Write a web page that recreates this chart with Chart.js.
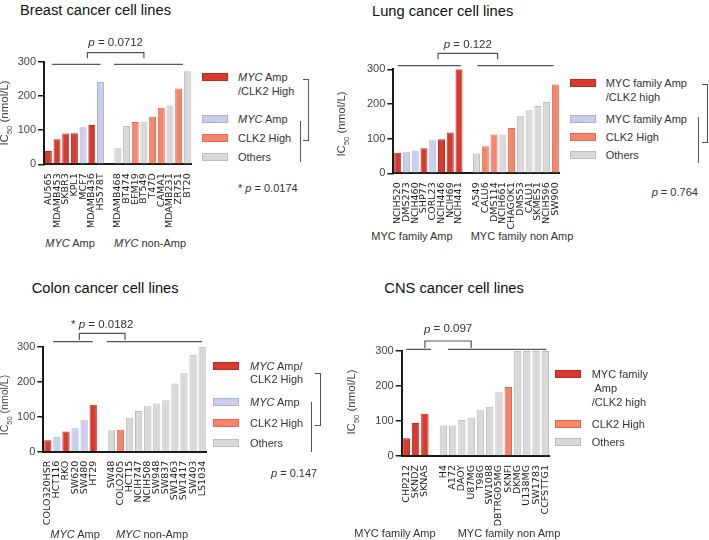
<!DOCTYPE html>
<html>
<head>
<meta charset="utf-8">
<script src="https://cdn.jsdelivr.net/npm/chart.js@4"></script>
<style>
  body { margin: 0; width: 709px; height: 540px; position: relative; overflow: hidden; background: #fff;
         font-family: "Liberation Sans", Arial, sans-serif; color: #333; }
  canvas { position: absolute; }
  .t { position: absolute; white-space: nowrap; transform: translateY(-50%); font-size: 11px; line-height: 1; }
  .title { font-size: 14.7px; color: #111; }
  .ytitle { position: absolute; white-space: nowrap; font-size: 11.5px; transform: translate(-50%, -50%) rotate(-90deg); color: #444; }
  .ytitle sub { font-size: 7.5px; }
  .grp { position: absolute; white-space: nowrap; font-size: 11px; transform: translate(-50%, -50%); color: #333; }
  .sw { position: absolute; width: 24px; height: 6px; border: 1px solid; transform: translateY(-50%); }
  .ln { position: absolute; border-color: #555; border-style: solid; border-width: 0; }
</style>
</head>
<body>
<script>
// IC50 (nmol/L) per cell line; '' / null is the gap between groups
const breastLines = ['AU565', 'MDAMB453', 'SKBR3', 'KPL1', 'MCF7', 'MDAMB436', 'HS578T', '',
  'MDAMB468', 'BT474', 'EFM19', 'BT549', 'T47D', 'CAMA1', 'MDAMB231', 'ZR751', 'BT20'];
const breastIC50 = [39, 73, 90, 91, 108, 115, 241, null, 47, 112, 124, 125, 139, 165, 172, 222, 272];
const breastType = ['both', 'both', 'both', 'both', 'amp', 'both', 'amp', null,
  'other', 'other', 'clk2', 'other', 'clk2', 'clk2', 'other', 'clk2', 'other'];

const lungLines = ['NCIH520', 'DMS273', 'NCIH460', 'SHP77', 'CORL23', 'NCIH446', 'NCIH69', 'NCIH441', '',
  'A549', 'CALU6', 'DMS114', 'NCIH661', 'CHAGOK1', 'DMS53', 'CALU1', 'SKMES1', 'NCIH596', 'SW900'];
const lungIC50 = [59, 61, 66, 72, 95, 98, 118, 300, null, 57, 78, 112, 112, 131, 166, 182, 194, 206, 256];
const lungType = ['both', 'amp', 'amp', 'both', 'amp', 'both', 'both', 'both', null,
  'other', 'clk2', 'clk2', 'other', 'clk2', 'other', 'other', 'other', 'other', 'clk2'];

const colonLines = ['COLO320HSR', 'HCT116', 'RKO', 'SW620', 'SW480', 'HT29', '',
  'SW48', 'COLO205', 'HCT15', 'NCIH747', 'NCIH508', 'SW948', 'SW837', 'SW1463', 'SW1417', 'SW403', 'LS1034'];
const colonIC50 = [33, 43, 58, 67, 90, 134, null, 61, 63, 97, 116, 130, 138, 147, 195, 224, 277, 300];
const colonType = ['both', 'amp', 'both', 'amp', 'amp', 'both', null,
  'other', 'clk2', 'other', 'other', 'other', 'other', 'other', 'other', 'other', 'other', 'other'];

const cnsLines = ['CHP212', 'SKNDZ', 'SKNAS', '',
  'H4', 'A172', 'DAOY', 'U87MG', 'T98G', 'SW1088', 'DBTRG05MG', 'SKNFI', 'DKMG', 'U138MG', 'SW1783', 'CCFSTTG1'];
const cnsIC50 = [51, 94, 121, null, 87, 87, 103, 110, 131, 141, 182, 197, 300, 300, 300, 300];
const cnsType = ['both', 'both', 'both', null,
  'other', 'other', 'other', 'other', 'other', 'other', 'other', 'clk2', 'other', 'other', 'other', 'other'];

const yTicks = [0, 100, 200, 300];

const COLORS = {
  both:  { fill: '#d73a2e', line: '#b82d23' },
  amp:   { fill: '#cacee9', line: '#a9b0da' },
  clk2:  { fill: '#f5866b', line: '#e4684d' },
  other: { fill: '#d9d9d9', line: '#bcbcbc' }
};

Chart.defaults.font.family = '"Liberation Sans", Arial, sans-serif';

// group lines + significance bracket above the bars, placed on the category scale
const bracketPlugin = {
  id: 'brackets',
  afterDraw(chart, args, o) {
    const ctx = chart.ctx;
    const x = chart.scales.x;
    const top = chart.chartArea.top;
    const px = i => x.getPixelForValue(i);
    ctx.save();
    ctx.strokeStyle = '#555';
    ctx.lineWidth = 1.2;
    ctx.beginPath();
    o.groups.forEach(g => {
      ctx.moveTo(px(g[0]), top + o.lineY);
      ctx.lineTo(px(g[1]), top + o.lineY);
    });
    ctx.moveTo(px(o.legs[0]), top + o.legY);
    ctx.lineTo(px(o.legs[0]), top + o.capY);
    ctx.lineTo(px(o.legs[1]), top + o.capY);
    ctx.lineTo(px(o.legs[1]), top + o.legY);
    ctx.stroke();

    // "p = ..." with italic p
    const parts = o.label;
    const fonts = parts.map(p => (p[1] ? 'italic ' : '') + '11.5px "Liberation Sans", Arial, sans-serif');
    let w = 0;
    parts.forEach((p, i) => { ctx.font = fonts[i]; w += ctx.measureText(p[0]).width; });
    let cx = (px(o.legs[0]) + px(o.legs[1])) / 2 - w / 2;
    ctx.fillStyle = '#333';
    ctx.textBaseline = 'middle';
    parts.forEach((p, i) => {
      ctx.font = fonts[i];
      ctx.fillText(p[0], cx, top + o.textY);
      cx += ctx.measureText(p[0]).width;
    });
    ctx.restore();
  }
};

function makePanel(p) {
  const cv = document.createElement('canvas');
  cv.width = p.box[2];
  cv.height = p.box[3];
  cv.style.left = p.box[0] + 'px';
  cv.style.top = p.box[1] + 'px';
  cv.style.width = p.box[2] + 'px';
  cv.style.height = p.box[3] + 'px';
  document.body.appendChild(cv);

  return new Chart(cv, {
    type: 'bar',
    data: {
      labels: p.labels,
      datasets: [{
        data: p.values,
        backgroundColor: p.types.map(t => t ? COLORS[t].fill : 'rgba(0,0,0,0)'),
        borderColor: p.types.map(t => t ? COLORS[t].line : 'rgba(0,0,0,0)'),
        borderWidth: 1,
        barPercentage: 0.8,
        categoryPercentage: 1
      }]
    },
    options: {
      responsive: false,
      animation: false,
      layout: { padding: { top: p.padTop, right: p.padRight, left: 0, bottom: 0 } },
      plugins: {
        legend: { display: false },
        tooltip: { enabled: false },
        brackets: p.brackets
      },
      scales: {
        x: {
          grid: { display: false },
          border: { color: '#1a1a1a', width: 2 },
          ticks: {
            autoSkip: false,
            minRotation: 90,
            maxRotation: 90,
            color: '#1a1a1a',
            font: { family: '"DejaVu Sans", sans-serif', size: 9.5 },
            padding: 1
          },
          afterFit: s => { s.height = p.xHeight; }
        },
        y: {
          min: 0,
          max: 300,
          afterBuildTicks: s => { s.ticks = yTicks.map(v => ({ value: v })); },
          border: { color: '#1a1a1a', width: 2 },
          grid: { drawOnChartArea: false, color: '#1a1a1a', lineWidth: 1.5, tickLength: 6 },
          ticks: { color: '#444', font: { size: 11 }, padding: 2 },
          afterFit: s => { s.width = p.yWidth; }
        }
      }
    },
    plugins: [bracketPlugin]
  });
}

makePanel({
  labels: breastLines, values: breastIC50, types: breastType,
  box: [0, 30, 200, 200], padTop: 31.7, padRight: 8, yWidth: 44, xHeight: 65.7,
  brackets: { groups: [[0.4, 6], [7.55, 15.5]], legs: [4.5, 11], lineY: 2.6, capY: -9, legY: -3.5, textY: -19,
    label: [['p', true], [' = 0.0712', false]] }
});
makePanel({
  labels: lungLines, values: lungIC50, types: lungType,
  box: [345, 30, 223, 200], padTop: 39.3, padRight: 8, yWidth: 48.3, xHeight: 56.7,
  brackets: { groups: [[0, 7.2], [9.1, 17.8]], legs: [4.6, 11.4], lineY: -3.6, capY: -16, legY: -10, textY: -24.3,
    label: [['p', true], [' = 0.122', false]] }
});
makePanel({
  labels: colonLines, values: colonIC50, types: colonType,
  box: [0, 300, 215, 235], padTop: 46.7, padRight: 8.3, yWidth: 43.3, xHeight: 83.3,
  brackets: { groups: [[0.57, 4.95], [6.5, 17]], legs: [3.47, 8.5], lineY: -5, capY: -13.4, legY: -6.7, textY: -21.7,
    label: [['* ', false], ['p', true], [' = 0.0182', false]] }
});
makePanel({
  labels: cnsLines, values: cnsIC50, types: cnsType,
  box: [360, 300, 198, 235], padTop: 51, padRight: 8, yWidth: 41.7, xHeight: 79,
  brackets: { groups: [[0, 2.66], [4.5, 15.1]], legs: [2, 7], lineY: -1.7, capY: -10, legY: -3, textY: -21.7,
    label: [['p', true], [' = 0.097', false]] }
});

// ---- text overlays ----
function add(cls, x, y, html, extra) {
  const d = document.createElement('div');
  d.className = cls;
  d.style.left = x + 'px';
  d.style.top = y + 'px';
  d.innerHTML = html;
  if (extra) Object.assign(d.style, extra);
  document.body.appendChild(d);
  return d;
}
function swatch(x, y, type) {
  const d = add('sw', x, y, '');
  d.style.background = COLORS[type].fill;
  d.style.borderColor = COLORS[type].line;
}
function line(x, y, w, h, sides) {
  const d = add('ln', x, y, '', { width: w + 'px', height: h + 'px' });
  sides.forEach(s => { d.style['border' + s + 'Width'] = '1.2px'; });
}

add('t title', 20, 10, 'Breast cancer cell lines');
add('t title', 372, 10.7, 'Lung cancer cell lines');
add('t title', 31.7, 288, 'Colon cancer cell lines');
add('t title', 384.3, 288, 'CNS cancer cell lines');

const yTitle = 'IC<sub>50</sub> (nmol/L)';
add('ytitle', 6, 113, yTitle);
add('ytitle', 343, 124, yTitle);
add('ytitle', 6, 405, yTitle, { fontSize: '10.5px' });
add('ytitle', 353, 402, yTitle);

add('grp', 70, 243, '<i>MYC</i> Amp');
add('grp', 150, 243, '<i>MYC</i> non-Amp');
add('grp', 412, 236, 'MYC family Amp');
add('grp', 522, 236, 'MYC family non Amp');
add('grp', 75, 534, '<i>MYC</i> Amp');
add('grp', 152, 534, '<i>MYC</i> non-Amp');
add('grp', 395, 533, 'MYC family Amp');
add('grp', 509, 533, 'MYC family non Amp');

// breast legend
swatch(201.7, 77.3, 'both'); add('t', 238, 77.3, '<i>MYC</i> Amp'); add('t', 238, 90.7, '/CLK2 High');
swatch(201.7, 119, 'amp'); add('t', 238, 119, '<i>MYC</i> Amp');
swatch(201.7, 137.7, 'clk2'); add('t', 238, 137.7, 'CLK2 High');
swatch(201.7, 156.7, 'other'); add('t', 238, 156.7, 'Others');
line(303, 79, 5, 60, ['Top', 'Right', 'Bottom']);
line(299.5, 120.7, 0, 41.5, ['Left']);
add('t', 238, 188, '* <i>p</i> = 0.0174');

// lung legend
swatch(570, 82.7, 'both'); add('t', 605.7, 82.7, 'MYC family Amp'); add('t', 605.7, 97.3, '/CLK2 high');
swatch(570, 119.3, 'amp'); add('t', 605.7, 119.3, 'MYC family Amp');
swatch(570, 136.7, 'clk2'); add('t', 605.7, 136.7, 'CLK2 High');
swatch(570, 155, 'other'); add('t', 605.7, 155, 'Others');
line(701.5, 84, 5, 57, ['Top', 'Right', 'Bottom']);
line(697.5, 117, 0, 46, ['Left']);
add('t', 651.7, 191.7, '<i>p</i> = 0.764');

// colon legend
swatch(213, 366, 'both'); add('t', 250, 366, '<i>MYC</i> Amp/'); add('t', 250, 379.3, 'CLK2 High');
swatch(213, 402.3, 'amp'); add('t', 250, 402.3, '<i>MYC</i> Amp');
swatch(213, 423.3, 'clk2'); add('t', 250, 423.3, 'CLK2 High');
swatch(213, 443.3, 'other'); add('t', 250, 443.3, 'Others');
line(315, 373.3, 5, 50.7, ['Top', 'Right', 'Bottom']);
line(311.2, 402, 0, 49.7, ['Left']);
add('t', 271, 473.3, '<i>p</i> = 0.147');

// CNS legend
swatch(555, 374, 'both'); add('t', 591.7, 374, 'MYC family'); add('t', 594.5, 388.3, 'Amp'); add('t', 591.7, 401.7, '/CLK2 high');
swatch(555, 424, 'clk2'); add('t', 591.7, 424, 'CLK2 High');
swatch(555, 442.3, 'other'); add('t', 591.7, 442.3, 'Others');
</script>
</body>
</html>
